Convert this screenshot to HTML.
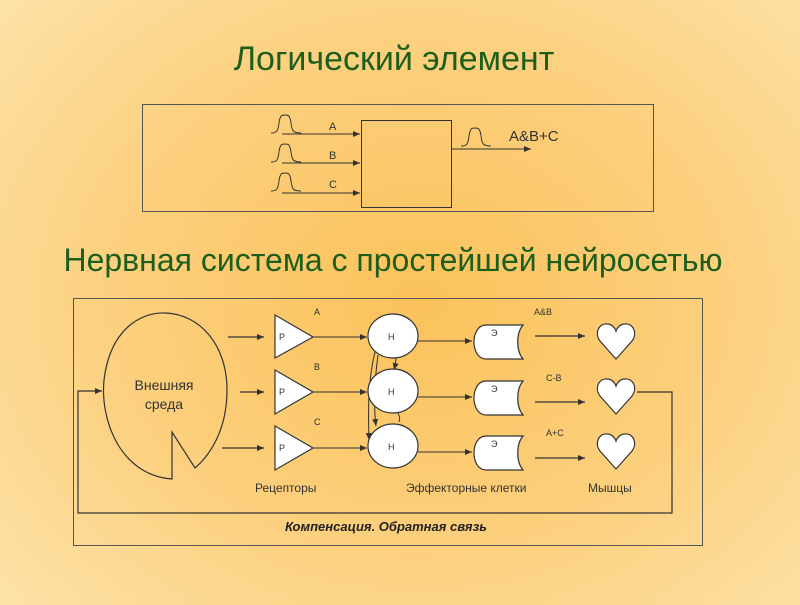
<!DOCTYPE html>
<html><head><meta charset="utf-8"><style>
html,body{margin:0;padding:0;}
body{width:800px;height:600px;overflow:hidden;background:radial-gradient(ellipse 560px 460px at 420px 300px,#fbc25a 0%,#fcd07e 55%,#fde3a8 100%);font-family:"Liberation Sans",sans-serif;}
</style></head><body>
<svg width="800" height="600" viewBox="0 0 800 600" xmlns="http://www.w3.org/2000/svg" font-family="Liberation Sans, sans-serif">
<defs>
<marker id="ar" markerWidth="8" markerHeight="6" refX="7" refY="3" orient="auto" markerUnits="userSpaceOnUse"><path d="M0,0 L7,3 L0,6 Z" fill="#333"/></marker>
<path id="pulse" d="M0,18 C6,18 7,16 8,8 C9,0 11,0 14,0 C17,0 19,0 20,8 C21,16 22,18 30,18" fill="none" stroke="#333" stroke-width="1"/>
<path id="heart" d="M19,36 L3,18 C-3,10 2,0 10,1 C15,1 18,5 19,8 C20,5 23,1 28,1 C36,0 41,10 35,18 Z" fill="#fff" stroke="#333" stroke-width="1.2"/>
<path id="eff" d="M12,0 L49,0 C42,8 42,26 49,34 L12,34 C-4,34 -4,0 12,0 Z" fill="#fff" stroke="#333" stroke-width="1.2"/>
</defs>
<text x="394" y="70" font-size="34" fill="#1d5e1d" text-anchor="middle">Логический элемент</text>
<rect x="142.5" y="104.5" width="511" height="107" fill="none" stroke="#555" stroke-width="1"/>
<rect x="361.5" y="120.5" width="90" height="87" fill="none" stroke="#333" stroke-width="1"/>
<use href="#pulse" x="271" y="115"/>
<use href="#pulse" x="271" y="144"/>
<use href="#pulse" x="271" y="173"/>
<line x1="282" y1="134" x2="360" y2="134" stroke="#333" marker-end="url(#ar)"/>
<line x1="282" y1="163" x2="360" y2="163" stroke="#333" marker-end="url(#ar)"/>
<line x1="282" y1="193" x2="360" y2="193" stroke="#333" marker-end="url(#ar)"/>
<text x="329" y="130" font-size="11" fill="#333">A</text>
<text x="329" y="159" font-size="11" fill="#333">B</text>
<text x="329" y="188" font-size="11" fill="#333">C</text>
<line x1="452" y1="149" x2="531" y2="149" stroke="#333" marker-end="url(#ar)"/>
<use href="#pulse" x="461" y="128"/>
<text x="509" y="141" font-size="15" fill="#333">A&amp;B+C</text>

<text x="393" y="271" font-size="32" fill="#1d5e1d" text-anchor="middle">Нервная система с простейшей нейросетью</text>
<rect x="73.5" y="298.5" width="629" height="247" fill="none" stroke="#555" stroke-width="1"/>
<path d="M172,479 C120,475 100,420 104,380 C110,330 140,312 165,313 C200,314 227,345 227,390 C227,430 210,455 195,468 L172,432 Z" fill="none" stroke="#333" stroke-width="1.2"/>
<text x="164" y="390" font-size="14" fill="#333" text-anchor="middle">Внешняя</text>
<text x="164" y="409" font-size="14" fill="#333" text-anchor="middle">среда</text>
<path d="M637,392 L672,392 L672,513 L78,513 L78,391 L102,391" fill="none" stroke="#333" stroke-width="1.2" marker-end="url(#ar)"/>
<g stroke="#333" stroke-width="1.2" fill="none">
<line x1="228" y1="337" x2="264" y2="337" marker-end="url(#ar)"/>
<line x1="240" y1="392" x2="264" y2="392" marker-end="url(#ar)"/>
<line x1="222" y1="448" x2="264" y2="448" marker-end="url(#ar)"/>
<line x1="313" y1="337" x2="367" y2="337" stroke-width="1" marker-end="url(#ar)"/>
<line x1="313" y1="392" x2="367" y2="392" stroke-width="1" marker-end="url(#ar)"/>
<line x1="313" y1="448" x2="367" y2="448" stroke-width="1" marker-end="url(#ar)"/>
<line x1="418" y1="341" x2="472" y2="341" stroke-width="1" marker-end="url(#ar)"/>
<line x1="418" y1="397" x2="472" y2="397" stroke-width="1" marker-end="url(#ar)"/>
<line x1="418" y1="452" x2="472" y2="452" stroke-width="1" marker-end="url(#ar)"/>
<line x1="535" y1="336" x2="585" y2="336" marker-end="url(#ar)"/>
<line x1="535" y1="402" x2="585" y2="402" marker-end="url(#ar)"/>
<line x1="535" y1="458" x2="585" y2="458" marker-end="url(#ar)"/>
<path d="M375,352 C368,380 368,410 369,440" stroke-width="1" marker-end="url(#ar)"/>
<path d="M378,355 C374,385 374,410 376,426" stroke-width="1" marker-end="url(#ar)"/>
<path d="M396,358 C396,362 395,366 394,370" stroke-width="1" marker-end="url(#ar)"/>
<path d="M398,413 C400,417 400,420 399,422" stroke-width="1"/>
</g>
<g fill="#fff" stroke="#333" stroke-width="1.2">
<polygon points="275,315 313,337 275,358"/>
<polygon points="275,370 313,392 275,414"/>
<polygon points="275,426 313,448 275,470"/>
<ellipse cx="393" cy="336" rx="25" ry="22"/>
<ellipse cx="393" cy="391" rx="25" ry="22"/>
<ellipse cx="393" cy="446" rx="25" ry="22"/>
</g>
<g font-size="9" fill="#333">
<text x="279" y="340">Р</text><text x="279" y="395">Р</text><text x="279" y="451">Р</text>
<text x="388" y="340">Н</text><text x="388" y="395">Н</text><text x="388" y="450">Н</text>
<text x="314" y="315">A</text><text x="314" y="370">B</text><text x="314" y="425">C</text>
<text x="534" y="315">A&amp;B</text><text x="546" y="381">C-B</text><text x="546" y="436">A+C</text>
</g>
<use href="#eff" x="474" y="325"/>
<use href="#eff" x="474" y="381"/>
<use href="#eff" x="474" y="436"/>
<g font-size="9" fill="#333"><text x="491" y="336">Э</text><text x="491" y="392">Э</text><text x="491" y="447">Э</text></g>
<use href="#heart" x="597" y="323"/>
<use href="#heart" x="597" y="378"/>
<use href="#heart" x="597" y="433"/>
<g font-size="12" fill="#333">
<text x="255" y="492">Рецепторы</text>
<text x="406" y="492">Эффекторные клетки</text>
<text x="588" y="492">Мышцы</text>
</g>
<text x="386" y="531" font-size="13" font-weight="bold" font-style="italic" fill="#222" text-anchor="middle">Компенсация. Обратная связь</text>
</svg>
</body></html>
